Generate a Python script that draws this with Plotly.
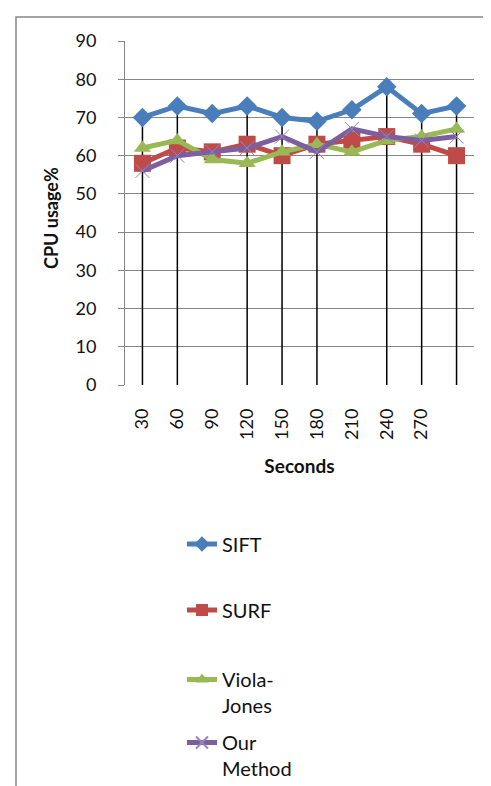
import plotly.graph_objects as go

seconds = [30, 60, 90, 120, 150, 180, 210, 240, 270, 300]
tick_labels = ["30", "60", "90", "120", "150", "180", "210", "240", "270", ""]
sift = [70, 73, 71, 73, 70, 69, 72, 78, 71, 73]
surf = [58, 62, 61, 63, 60, 63, 64, 65, 63, 60]
viola = [62, 64, 59, 58, 61, 63, 61, 64, 65, 67]
ours = [56, 60, 61, 62, 65, 61, 67, 65, 64, 65]
drop_seconds = [30, 60, 120, 150, 180, 240, 270, 300]

W, H = 491, 786
L, R, T, B = 117, 25, 33, 409
PW, PH = W - L - R, H - T - B

def px(x):
    return (x - L) / PW

def py(y):
    return (H - B - y) / PH

FONT = "Lato"
fig = go.Figure()

# drop lines from SIFT values to the axis
dx, dy = [], []
for s in drop_seconds:
    v = sift[seconds.index(s)]
    dx += [s, s, None]
    dy += [v, 0, None]
fig.add_trace(go.Scatter(x=dx, y=dy, mode="lines", line=dict(color="black", width=1.5),
                         showlegend=False, hoverinfo="skip"))

series = [
    ("SIFT", sift, "#4A7EBB", dict(symbol="diamond", size=15, color="#4A7EBB"), "legend"),
    ("SURF", surf, "#BE4B48", dict(symbol="square", size=17, color="#BE4B48"), "legend2"),
    ("Viola-<br>Jones", viola, "#98B954", dict(symbol="triangle-up", size=15, color="#98B954"), "legend3"),
    ("Our<br>Method", ours, "#7D5FA0",
     dict(symbol="x-thin", size=14, color="#9A82C0", line=dict(width=1, color="#9A82C0")), "legend4"),
]
for name, vals, col, mk, lg in series:
    fig.add_trace(go.Scatter(x=seconds, y=vals, name=name, mode="lines+markers",
                             line=dict(color=col, width=5), marker=mk, legend=lg))

legend_y = [536, 602, 665, 728]
leg_common = dict(xref="container", yref="container", x=174 / W, xanchor="left",
                  yanchor="middle", font=dict(family=FONT, size=20, color="#111"),
                  bgcolor="rgba(0,0,0,0)", valign="top", itemsizing="constant")
layout_legends = {}
for i, (key, ypix) in enumerate(zip(["legend", "legend2", "legend3", "legend4"], legend_y)):
    d = dict(leg_common)
    d["y"] = 1 - ypix / H
    if i >= 2:
        d["yanchor"] = "top"
        d["y"] = 1 - (ypix - 13) / H
    layout_legends[key] = d

fig.update_layout(
    width=W, height=H,
    margin=dict(l=L, r=R, t=T, b=B, autoexpand=False),
    plot_bgcolor="white", paper_bgcolor="white",
    font=dict(family=FONT, color="#111"),
    **layout_legends,
    xaxis=dict(range=[15, 315], tickmode="array", tickvals=seconds, ticktext=tick_labels,
               tickangle=-90, showgrid=False, zeroline=False, showline=False,
               ticks="", ticklabelstandoff=19, tickfont=dict(family=FONT, size=18, color="#111"),
               title=dict(text="<b>Seconds</b>", font=dict(family=FONT, size=19, color="#111"),
                          standoff=20)),
    yaxis=dict(range=[0, 90], tickmode="array", tickvals=list(range(0, 91, 10)),
               showgrid=True, gridcolor="#868686", gridwidth=1, zeroline=False,
               showline=True, linecolor="#868686", linewidth=1,
               ticks="outside", ticklen=6, tickwidth=1, tickcolor="#868686", ticklabelstandoff=18,
               tickfont=dict(family=FONT, size=18, color="#111")),
    annotations=[
        dict(text="<b>CPU usage%</b>", xref="paper", yref="paper", x=px(43), y=py(210),
             xanchor="center", yanchor="middle", textangle=-90, showarrow=False,
             font=dict(family=FONT, size=18, color="#111")),
    ],
    shapes=[
        dict(type="rect", xref="paper", yref="paper", x0=px(8), x1=px(W + 10),
             y0=py(H + 10), y1=py(9), line=dict(color="#868686", width=1.5), layer="below"),
    ],
)
fig.write_html("out.html")
